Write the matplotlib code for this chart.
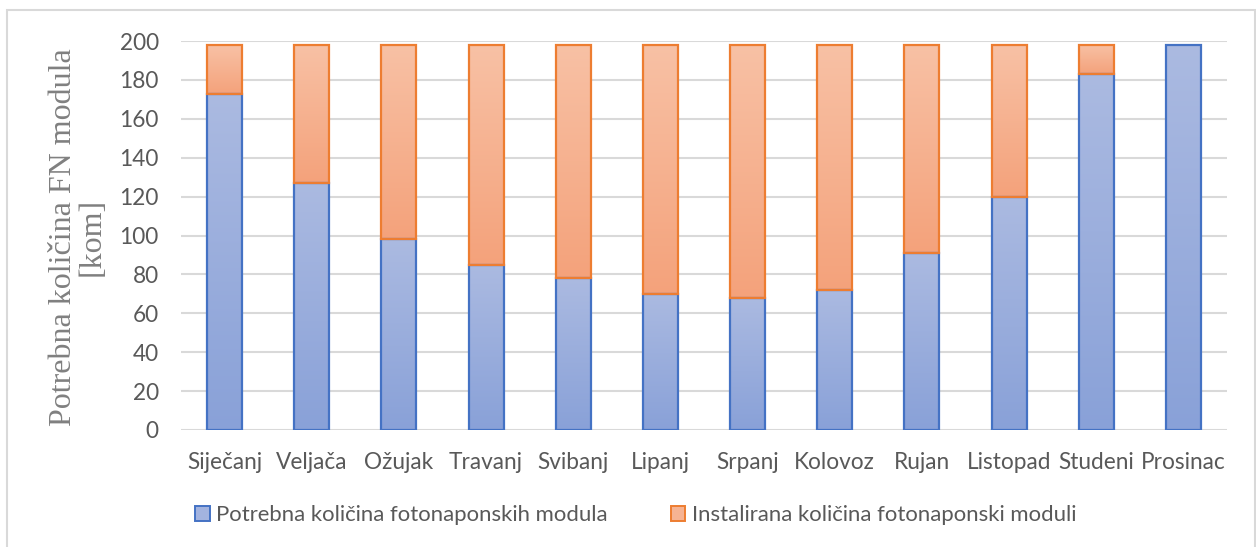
import numpy as np
import matplotlib.pyplot as plt
from matplotlib.colors import LinearSegmentedColormap
from matplotlib.patches import Patch, Rectangle

# Monthly data: required modules vs. additionally installed modules
months = ["Siječanj", "Veljača", "Ožujak", "Travanj", "Svibanj", "Lipanj",
          "Srpanj", "Kolovoz", "Rujan", "Listopad", "Studeni", "Prosinac"]
required = [173, 127, 98, 85, 78, 70, 68, 72, 91, 120, 183, 198]
installed_total = 198
installed_extra = [installed_total - r for r in required]
y_ticks = [0, 20, 40, 60, 80, 100, 120, 140, 160, 180, 200]

series_names = ["Potrebna količina fotonaponskih modula",
                "Instalirana količina fotonaponski moduli"]

W, H = 1256, 547
fig = plt.figure(figsize=(W / 100, H / 100), dpi=100)
ax = fig.add_axes([181 / W, 1 - 430 / H, (1227 - 181) / W, (430 - 41) / H])

font = "Lato"
tick_color = "#595959"
label_size = 16.3

blue_edge, orange_edge = "#4472c4", "#ed7d31"
blue_cmap = LinearSegmentedColormap.from_list("b", ["#89a1d8", "#abbae1"])
orange_cmap = LinearSegmentedColormap.from_list("o", ["#f4a27b", "#f8c1a5"])

x = np.arange(len(months))
width = 0.4

bars_b = ax.bar(x, required, width, facecolor="none", edgecolor=blue_edge,
                linewidth=1.6, zorder=4)
bars_o = ax.bar(x, installed_extra, width, bottom=required, facecolor="none",
                edgecolor=orange_edge, linewidth=1.6, zorder=4)

grad = np.linspace(0, 1, 256).reshape(-1, 1)
for bars, cmap in ((bars_b, blue_cmap), (bars_o, orange_cmap)):
    for p in bars:
        if p.get_height() <= 0:
            p.set_visible(False)
            continue
        x0, y0 = p.get_x(), p.get_y()
        im = ax.imshow(grad, cmap=cmap, origin="lower", aspect="auto",
                       extent=[x0, x0 + p.get_width(), y0, y0 + p.get_height()],
                       zorder=3, interpolation="bilinear")
        im.set_clip_path(p)

ax.set_xlim(-0.5, len(months) - 0.5)
ax.set_ylim(0, 200)
ax.set_yticks(y_ticks)
ax.set_xticks(x)
ax.set_xticklabels(months)
ax.yaxis.grid(True, color="#d9d9d9", linewidth=1.5, zorder=0)
ax.set_axisbelow(True)
for s in ax.spines.values():
    s.set_visible(False)
ax.tick_params(axis="both", length=0, labelcolor=tick_color,
               labelsize=label_size)
ax.tick_params(axis="y", pad=16)
ax.tick_params(axis="x", pad=16)
for lbl in ax.get_xticklabels() + ax.get_yticklabels():
    lbl.set_fontfamily(font)

fig.text(78 / W, 1 - 237 / H, "Potrebna količina FN modula\n[kom]",
         rotation=90, ha="center", va="center", multialignment="center",
         fontsize=23, family="Liberation Serif", color="#808080",
         linespacing=1.0)

handles = [Patch(facecolor="#a3b3df", edgecolor=blue_edge, linewidth=1.4),
           Patch(facecolor="#f6b393", edgecolor=orange_edge, linewidth=1.4)]
leg = fig.legend(handles, series_names, loc="center",
                 bbox_to_anchor=(636 / W, 1 - 515 / H), ncol=2, frameon=False,
                 handlelength=0.65, handleheight=0.65, handletextpad=0.3,
                 columnspacing=2.85, prop={"family": font, "size": 15.9})
for t in leg.get_texts():
    t.set_color(tick_color)

# outer chart frame
fig.add_artist(Rectangle((7 / W, -0.05), (1255 - 7) / W, 1.05 - 10 / H,
                         transform=fig.transFigure, fill=False,
                         edgecolor="#d9d9d9", linewidth=1.5))

fig.savefig("out.png", dpi=100, facecolor="white")
